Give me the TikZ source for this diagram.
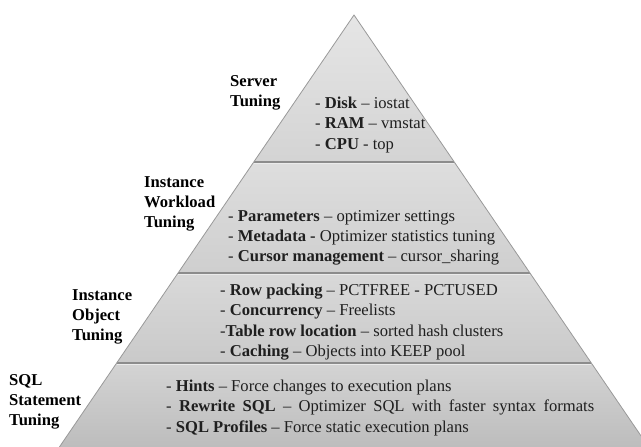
\documentclass[tikz,border=0pt]{standalone}
\usepackage{fontspec}
\setmainfont{Liberation Serif}
\begin{document}
\begin{tikzpicture}[x=1bp,y=-1bp,
  label/.style={anchor=west,inner sep=0pt,align=left,text=black,
    font=\fontsize{16.6bp}{19.8bp}\selectfont\bfseries},
  items/.style={anchor=west,inner sep=0pt,align=left,text=black!88,
    font=\fontsize{16.6bp}{20.2bp}\selectfont},
  edge/.style={draw=black!40,line width=0.8bp},
  sep/.style={draw=black!45,line width=1.3bp},
  sephi/.style={draw=white!92!black,line width=0.9bp}]
\useasboundingbox (0,0) rectangle (641,447);
\clip (0,0) rectangle (641,447);

% pyramid corners and band boundaries
\coordinate (apex) at (354,15);
\coordinate (l1) at (253.7,162); \coordinate (r1) at (454.3,162);
\coordinate (l2) at (178.0,273); \coordinate (r2) at (530.0,273);
\coordinate (l3) at (116.7,363); \coordinate (r3) at (591.3,363);
\coordinate (l4) at (59.4,447);  \coordinate (r4) at (648.6,447);

% bands, each shaded lighter at the top
\shade[top color=black!10,bottom color=black!17] (apex) -- (r1) -- (l1) -- cycle;
\shade[top color=black!13,bottom color=black!19] (l1) -- (r1) -- (r2) -- (l2) -- cycle;
\shade[top color=black!15,bottom color=black!21] (l2) -- (r2) -- (r3) -- (l3) -- cycle;
\shade[top color=black!17,bottom color=black!26] (l3) -- (r3) -- (r4) -- (l4) -- cycle;

% separators with a light line underneath
\draw[sephi] ([yshift=-1.5bp]l1) -- ([yshift=-1.5bp]r1);
\draw[sep] (l1) -- (r1);
\draw[sephi] ([yshift=-1.5bp]l2) -- ([yshift=-1.5bp]r2);
\draw[sep] (l2) -- (r2);
\draw[sephi] ([yshift=-1.5bp]l3) -- ([yshift=-1.5bp]r3);
\draw[sep] (l3) -- (r3);

% outer edges
\draw[edge] (l4) -- (apex) -- (r4);

% level names
\node[label] (server) at (230,93) {Server\\Tuning};
\node[label] (workload) at (144,204) {Instance\\Workload\\Tuning};
\node[label] (object) at (72,317) {Instance\\Object\\Tuning};
\node[label] (sql) at (9,402) {SQL\\Statement\\Tuning};

% tuning activities
\node[items] (srvitems) at (315,125)
  {- \textbf{Disk} -- iostat\\- \textbf{RAM} -- vmstat\\- \textbf{CPU} - top};
\node[items] (wlitems) at (228,238)
  {- \textbf{Parameters} -- optimizer settings\\
   - \textbf{Metadata -} Optimizer statistics tuning\\
   - \textbf{Cursor management} -- cursor\_sharing};
\node[items] (objitems) at (220,322)
  {- \textbf{Row packing} -- PCTFREE - PCTUSED\\
   - \textbf{Concurrency} -- Freelists\\
   -\textbf{Table row location} -- sorted hash clusters\\
   - \textbf{Caching} -- Objects into KEEP pool};
\node[items] (sqlitems) at (166,408)
  {- \textbf{Hints} -- Force changes to execution plans\\
   {\spaceskip=7.3bp\relax - \textbf{Rewrite SQL} -- Optimizer SQL with faster syntax formats}\\
   - \textbf{SQL Profiles} -- Force static execution plans};
\end{tikzpicture}
\end{document}
